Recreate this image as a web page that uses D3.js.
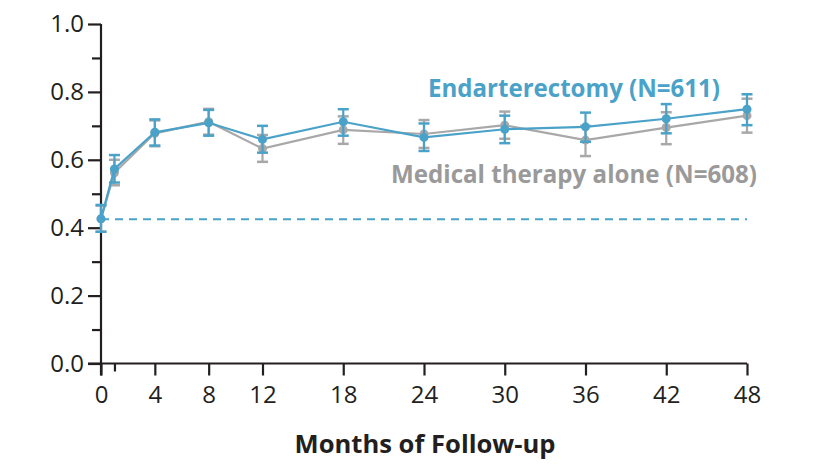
<!DOCTYPE html>
<html>
<head>
<meta charset="utf-8">
<script src="https://cdn.jsdelivr.net/npm/d3@7"></script>
<style>
  body { margin: 0; background: #fff; }
  svg text { font-family: "Open Sans", sans-serif; }
</style>
</head>
<body>
<svg id="chart" width="822" height="473"></svg>
<script>
var months = [0, 1, 4, 8, 12, 18, 24, 30, 36, 42, 48];
var xTickLabels = [0, 4, 8, 12, 18, 24, 30, 36, 42, 48];
var yMajor = [0, 0.2, 0.4, 0.6, 0.8, 1.0];
var yMinor = [0.1, 0.3, 0.5, 0.7, 0.9];
var baseline = 0.425;

// endarterectomy
var endMean = [0.426, 0.573, 0.681, 0.709, 0.660, 0.712, 0.666, 0.690, 0.697, 0.721, 0.749];
var endLow  = [0.388, 0.533, 0.642, 0.671, 0.621, 0.671, 0.626, 0.649, 0.653, 0.678, 0.702];
var endHigh = [0.467, 0.614, 0.719, 0.747, 0.700, 0.749, 0.707, 0.730, 0.739, 0.764, 0.793];

// medical therapy alone
var medMean = [0.426, 0.562, 0.678, 0.712, 0.633, 0.688, 0.676, 0.702, 0.658, 0.695, 0.730];
var medLow  = [0.388, 0.525, 0.640, 0.674, 0.594, 0.647, 0.635, 0.662, 0.611, 0.646, 0.680];
var medHigh = [0.465, 0.600, 0.716, 0.750, 0.673, 0.728, 0.717, 0.742, 0.700, 0.740, 0.780];

var BLUE = "#4aa2c8", GRAY = "#a8a8a8", INK = "#231f20";

var svg = d3.select("#chart");
var x = d3.scaleLinear().domain([0, 48]).range([101, 747]);
var y = d3.scaleLinear().domain([0, 1]).range([363.5, 24]);

// {{{ axes
var yAxis = svg.append("g").attr("transform", "translate(101,0)");
yAxis.call(d3.axisLeft(y).tickValues(yMajor).tickSize(13).tickPadding(5).tickFormat(d3.format(".1f")));
yAxis.append("g").call(d3.axisLeft(y).tickValues(yMinor).tickSize(9).tickFormat(""));
yAxis.selectAll(".domain").filter(function(d, i) { return i > 0; }).remove();
yAxis.select(".domain").attr("d", "M0," + y(1) + "V" + (y(0) + 12));

var xAxis = svg.append("g").attr("transform", "translate(0," + y(0) + ")");
xAxis.call(d3.axisBottom(x).tickValues(xTickLabels).tickSize(12).tickPadding(10));
xAxis.append("g").call(d3.axisBottom(x).tickValues([1]).tickSize(8).tickFormat(""));
xAxis.selectAll(".domain").filter(function(d, i) { return i > 0; }).remove();
xAxis.select(".domain").attr("d", "M" + (x(0) - 13) + ",0H" + x(48));

svg.selectAll(".tick text").attr("font-size", 24).attr("fill", INK)
  .style("font-family", "'Open Sans', sans-serif");
yAxis.selectAll(".tick text").attr("x", -17);
svg.selectAll(".domain, .tick line").attr("stroke", INK).attr("stroke-width", 2.2);
// }}}

// baseline dashed
svg.append("line")
  .attr("x1", x(0)).attr("x2", x(48))
  .attr("y1", y(baseline)).attr("y2", y(baseline))
  .attr("stroke", BLUE).attr("stroke-width", 2).attr("stroke-dasharray", "8,6");

function drawSeries(mean, low, high, color) {
  var g = svg.append("g");
  var line = d3.line().x(function(d, i) { return x(months[i]); }).y(function(d) { return y(d); });
  g.append("path").datum(mean).attr("d", line)
    .attr("fill", "none").attr("stroke", color).attr("stroke-width", 2.2);
  months.forEach(function(m, i) {
    var cx = x(m);
    g.append("line").attr("x1", cx).attr("x2", cx).attr("y1", y(low[i])).attr("y2", y(high[i]))
      .attr("stroke", color).attr("stroke-width", 2.2);
    [low[i], high[i]].forEach(function(v) {
      g.append("line").attr("x1", cx - 5.5).attr("x2", cx + 5.5).attr("y1", y(v)).attr("y2", y(v))
        .attr("stroke", color).attr("stroke-width", 2.5);
    });
    g.append("circle").attr("cx", cx).attr("cy", y(mean[i])).attr("r", 4.5).attr("fill", color);
  });
}
drawSeries(medMean, medLow, medHigh, GRAY);
drawSeries(endMean, endLow, endHigh, BLUE);

// labels
svg.append("text").attr("x", 720).attr("y", 97).attr("text-anchor", "end")
  .attr("font-size", 25).attr("font-weight", 700).attr("fill", BLUE)
  .attr("textLength", 292).attr("lengthAdjust", "spacingAndGlyphs")
  .text("Endarterectomy (N=611)");
svg.append("text").attr("x", 757).attr("y", 183).attr("text-anchor", "end")
  .attr("font-size", 25).attr("font-weight", 700).attr("fill", "#9a9a9a")
  .attr("textLength", 366).attr("lengthAdjust", "spacingAndGlyphs")
  .text("Medical therapy alone (N=608)");

svg.append("text").attr("x", 425).attr("y", 453).attr("text-anchor", "middle")
  .attr("font-size", 25).attr("font-weight", 700).attr("fill", INK)
  .attr("textLength", 261).attr("lengthAdjust", "spacingAndGlyphs")
  .text("Months of Follow-up");
</script>
</body>
</html>
